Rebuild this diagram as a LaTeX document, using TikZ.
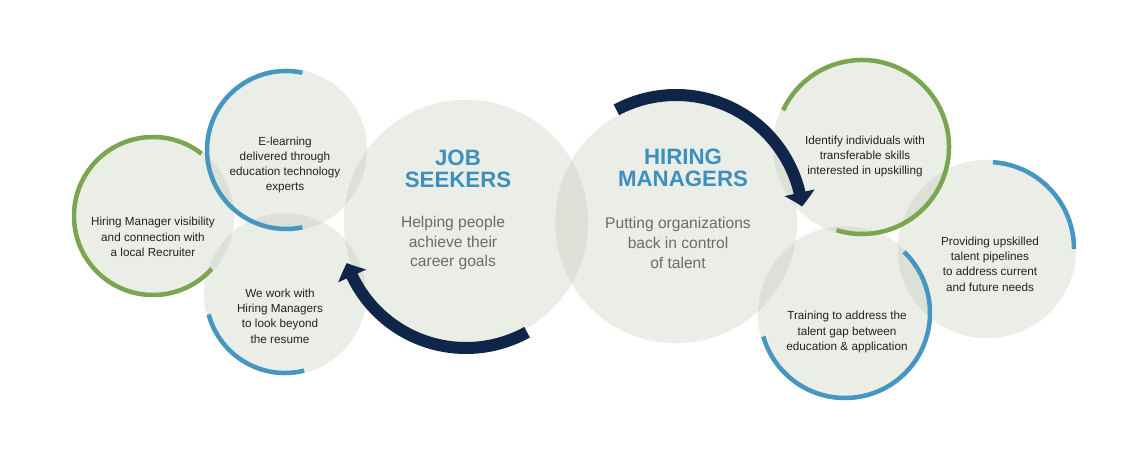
\documentclass[tikz,border=0pt]{standalone}
\usepackage{fontspec}
\setmainfont{Liberation Sans}
\usepackage{tikz}
\usetikzlibrary{arrows.meta, bending, calc}

\definecolor{discfill}{HTML}{BCC3AF}
\definecolor{ringblue}{HTML}{4696C2}
\definecolor{ringgreen}{HTML}{7BA64F}
\definecolor{navy}{HTML}{10254A}
\definecolor{headblue}{HTML}{3C90BF}
\definecolor{leadgray}{HTML}{6B6B6B}
\definecolor{smallink}{HTML}{222222}

\tikzset{
    disc/.style={circle, fill=discfill, fill opacity=0.3, draw=black!8, line width=0.3pt, inner sep=0pt, outer sep=0pt},
    ringb/.style={ringblue, line width=1.35mm},
    ringg/.style={ringgreen, line width=1.35mm},
    sweep/.style={navy, line width=3.6mm, -{Triangle[width=9mm, length=4.2mm, bend]}},
    small/.style={align=center, text=smallink, font=\fontsize{10}{13}\selectfont},
    title/.style={align=center, text=headblue, font=\fontsize{19}{18.7}\selectfont\bfseries},
    lead/.style={align=center, text=leadgray, font=\fontsize{13.3}{17}\selectfont}
}

\begin{document}
\begin{tikzpicture}[x=0.3mm, y=0.3mm]
    \useasboundingbox (0, 0) rectangle (1136, 468);

    % discs
    \node[disc, minimum size=73.2mm] (js) at (466, 246) {};
    \node[disc, minimum size=72.6mm] (hm) at (676, 246) {};
    \node[disc, minimum size=48.6mm] (elearn) at (286, 318) {};
    \node[disc, minimum size=48.6mm] (visib) at (153, 252) {};
    \node[disc, minimum size=48.6mm] (work) at (285, 174) {};
    \node[disc, minimum size=53.4mm] (ident) at (862, 321) {};
    \node[disc, minimum size=53.4mm] (provide) at (987, 219) {};
    \node[disc, minimum size=52.2mm] (train) at (845, 155) {};

    % coloured rims
    \draw[ringb] (elearn) ++(78:79) arc[start angle=78, end angle=282, radius=79];
    \draw[ringg] (visib) ++(52:79) arc[start angle=52, end angle=318, radius=79];
    \draw[ringb] (work) ++(195:79) arc[start angle=195, end angle=284, radius=79];
    \draw[ringg] (ident) ++(155:87) arc[start angle=155, end angle=-107, radius=87];
    \draw[ringb] (provide) ++(86:87) arc[start angle=86, end angle=0, radius=87];
    \draw[ringb] (train) ++(46:85) arc[start angle=46, end angle=-164, radius=85];

    % cycle arrows
    \draw[sweep] (hm) ++(118:127) arc[start angle=118, end angle=7, radius=127];
    \draw[sweep] (js) ++(-61:126) arc[start angle=-61, end angle=-161, radius=126];

    % texts
    \node[title] (jstitle) at ($(js) + (-8, 53)$) {JOB\\SEEKERS};
    \node[lead] (jslead) at ($(js) + (-13, -21)$) {Helping people\\achieve their\\career goals};
    \node[title] (hmtitle) at ($(hm) + (7, 54)$) {HIRING\\MANAGERS};
    \node[lead] (hmlead) at ($(hm) + (2, -21)$) {Putting organizations\\back in control\\of talent};

    \node[small] at ($(elearn) + (-1, -15)$) {E-learning\\delivered through\\education technology\\experts};
    \node[small] at ($(visib) + (0, -21)$) {Hiring Manager visibility\\and connection with\\a local Recruiter};
    \node[small] at ($(work) + (-5, -22)$) {We work with\\Hiring Managers\\to look beyond\\the resume};
    \node[small] at ($(ident) + (3, -9.5)$) {Identify individuals with\\transferable skills\\interested in upskilling};
    \node[small] at ($(provide) + (3, -15)$) {Providing upskilled\\talent pipelines\\to address current\\and future needs};
    \node[small] at ($(train) + (2, -19)$) {Training to address the\\talent gap between\\education \& application};
\end{tikzpicture}
\end{document}
